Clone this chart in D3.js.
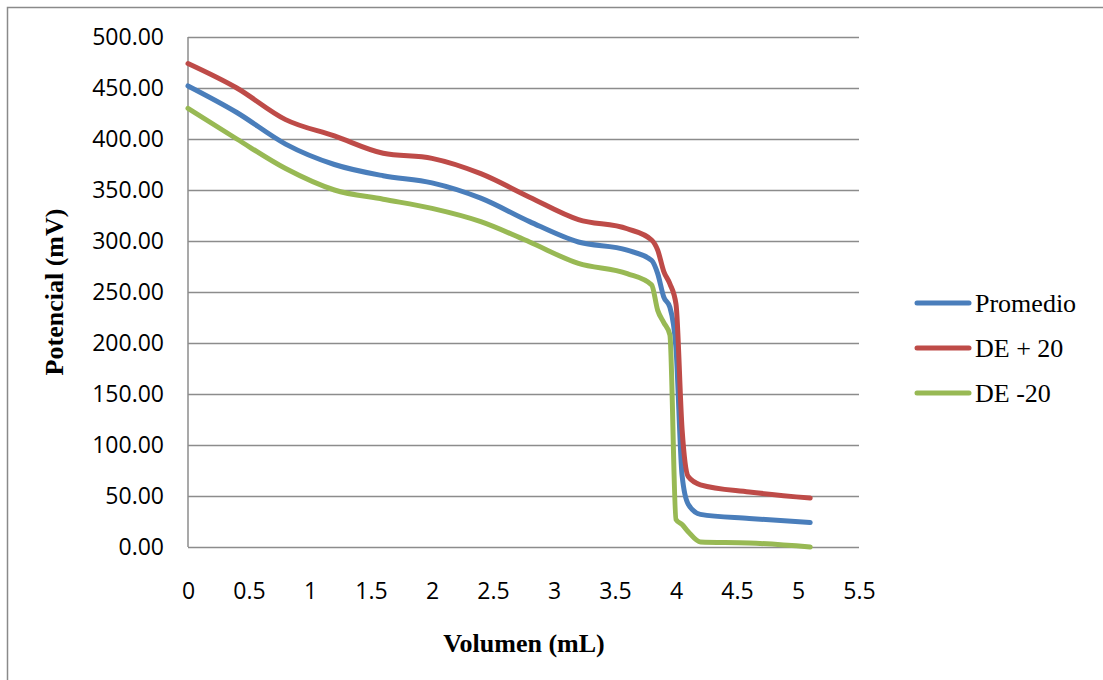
<!DOCTYPE html>
<html><head><meta charset="utf-8">
<script src="https://cdn.jsdelivr.net/npm/d3@7"></script>
<style>body{margin:0;background:#fff}svg{display:block}</style>
</head><body><svg id="c" width="1103" height="680"></svg>
<script>
const volumen   = [0, 0.4, 0.8, 1.2, 1.6, 2.0, 2.4, 2.8, 3.2, 3.6, 3.8, 3.85, 3.9, 3.95, 4.0, 4.05, 4.1, 4.2, 4.6, 5.1];
const promedio  = [452, 426, 395, 375, 364, 357, 342, 319, 299, 291, 281, 268, 245, 235, 195, 70, 42, 32, 28, 24];
const dePlus20  = [474, 450, 419, 403, 386, 381, 366, 343, 321, 312, 301, 291, 270, 258, 238, 115, 69, 61, 54, 48];
const deMinus20 = [430, 400, 371, 350, 341, 332, 319, 299, 278, 268, 257, 232, 220, 208, 27, 22, 15, 5, 4, 0];
const seriesNames = ["Promedio", "DE + 20", "DE -20"];
const seriesColors = ["#4a7ebb", "#be4b48", "#98b954"];
const xTicks = [0, 0.5, 1, 1.5, 2, 2.5, 3, 3.5, 4, 4.5, 5, 5.5];
const yTicks = [0, 50, 100, 150, 200, 250, 300, 350, 400, 450, 500];

const svg = d3.select("#c");
const L = 188, R = 859, T = 37, B = 547;
const x = d3.scaleLinear().domain([0, 5.5]).range([L, R]);
const y = d3.scaleLinear().domain([0, 500]).range([B, T]);

// outer border
svg.append("rect").attr("x", 7.5).attr("y", 7.5).attr("width", 1200).attr("height", 1000)
  .attr("fill", "none").attr("stroke", "#8a8a8a").attr("stroke-width", 1.5);

const tickFont = "'Open Sans', sans-serif";

// y axis with gridlines
const gy = svg.append("g").attr("transform", `translate(${L},0)`)
  .call(d3.axisLeft(y).tickValues(yTicks).tickSize(-(R - L)).tickPadding(24).tickFormat(d3.format(".2f")));
gy.select(".domain").remove();
gy.selectAll(".tick line").attr("stroke", "#8c8c8c").attr("stroke-width", 1.5);
gy.selectAll(".tick text").attr("fill", "#000").style("font-family", tickFont).style("font-size", "23px");

// vertical axis line
svg.append("line").attr("x1", L).attr("x2", L).attr("y1", T).attr("y2", B)
  .attr("stroke", "#8c8c8c").attr("stroke-width", 1.5);

// x axis labels
const gx = svg.append("g").attr("transform", `translate(0,${B})`)
  .call(d3.axisBottom(x).tickValues(xTicks).tickSize(0).tickPadding(36).tickFormat(d => String(d)));
gx.select(".domain").remove();
gx.selectAll(".tick text").attr("fill", "#000").style("font-family", tickFont).style("font-size", "23px");

// series
const line = d3.line().x((d, i) => x(volumen[i])).y(d => y(d)).curve(d3.curveMonotoneX);
[promedio, dePlus20, deMinus20].forEach((s, k) => {
  svg.append("path").datum(s).attr("d", line).attr("fill", "none")
    .attr("stroke", seriesColors[k]).attr("stroke-width", 5)
    .attr("stroke-linejoin", "round").attr("stroke-linecap", "round");
});

// axis titles
svg.append("text").attr("x", 524).attr("y", 652).attr("text-anchor", "middle")
  .style("font-family", "'Liberation Serif', 'Times New Roman', serif").style("font-weight", "bold")
  .style("font-size", "26px").text("Volumen (mL)");
svg.append("text").attr("transform", "translate(63,292) rotate(-90)").attr("text-anchor", "middle")
  .style("font-family", "'Liberation Serif', 'Times New Roman', serif").style("font-weight", "bold")
  .style("font-size", "26px").text("Potencial (mV)");

// legend
const legY = [303, 348, 393];
seriesNames.forEach((n, k) => {
  svg.append("line").attr("x1", 917).attr("x2", 969).attr("y1", legY[k]).attr("y2", legY[k])
    .attr("stroke", seriesColors[k]).attr("stroke-width", 5).attr("stroke-linecap", "round");
  svg.append("text").attr("x", 975).attr("y", legY[k]).attr("dy", "0.33em")
    .style("font-family", "'Liberation Serif', 'Times New Roman', serif").style("font-size", "26px")
    .attr("fill", "#000").text(n);
});
</script></body></html>
